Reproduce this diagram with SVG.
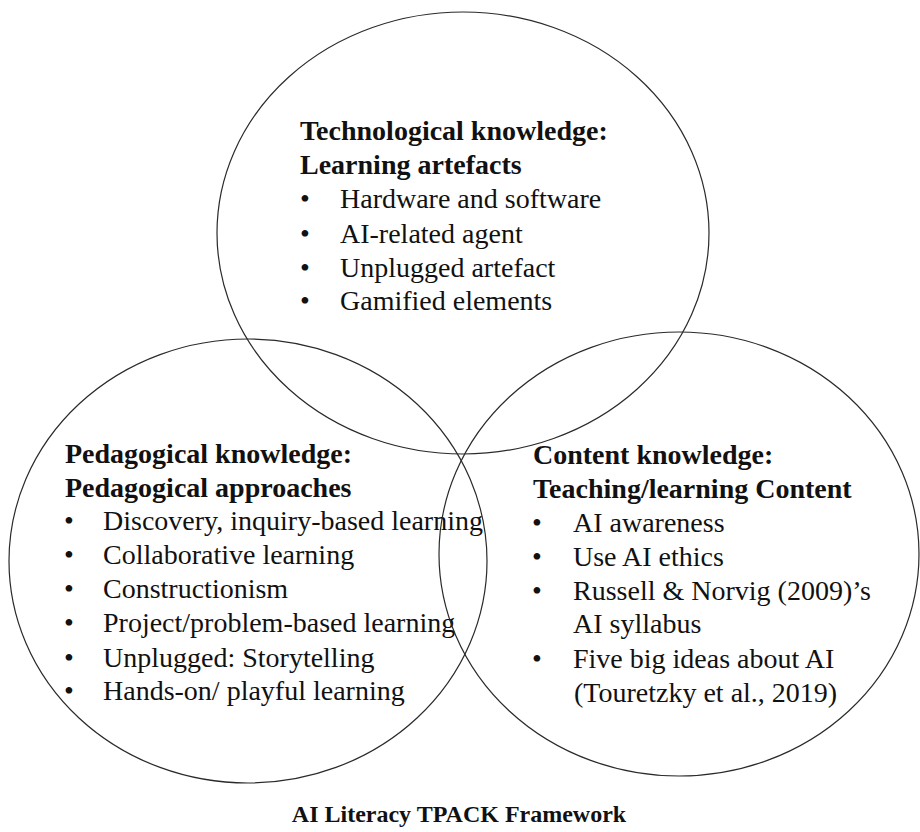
<svg xmlns="http://www.w3.org/2000/svg" width="920" height="832" viewBox="0 0 920 832">
<style>
.c{fill:none;stroke:#2a2a2a;stroke-width:1.2}
.h{font-family:"Liberation Serif","Times New Roman",serif;font-weight:bold;font-size:28px;fill:#111}
.t{font-family:"Liberation Serif","Times New Roman",serif;font-size:28px;fill:#111}
.ttl{font-family:"Liberation Serif","Times New Roman",serif;font-weight:bold;font-size:24px;fill:#111}
</style>
<rect width="920" height="832" fill="#fff"/>
<g id="tech">
<ellipse class="c" cx="463" cy="233" rx="246" ry="221"/>
<text class="h" x="300" y="140">Technological knowledge:</text>
<text class="h" x="300" y="174">Learning artefacts</text>
<text class="t" x="300" y="208">•</text><text class="t" x="340" y="208">Hardware and software</text>
<text class="t" x="300" y="243">•</text><text class="t" x="340" y="243">AI-related agent</text>
<text class="t" x="300" y="277">•</text><text class="t" x="340" y="277">Unplugged artefact</text>
<text class="t" x="300" y="310">•</text><text class="t" x="340" y="310">Gamified elements</text>
</g>
<g id="ped">
<ellipse class="c" cx="248" cy="561" rx="239" ry="222"/>
<text class="h" x="65" y="463">Pedagogical knowledge:</text>
<text class="h" x="65" y="497">Pedagogical approaches</text>
<text class="t" x="64" y="530">•</text><text class="t" x="103" y="530">Discovery, inquiry-based learning</text>
<text class="t" x="64" y="564">•</text><text class="t" x="103" y="564">Collaborative learning</text>
<text class="t" x="64" y="598">•</text><text class="t" x="103" y="598">Constructionism</text>
<text class="t" x="64" y="632">•</text><text class="t" x="103" y="632">Project/problem-based learning</text>
<text class="t" x="64" y="667">•</text><text class="t" x="103" y="667">Unplugged: Storytelling</text>
<text class="t" x="64" y="700">•</text><text class="t" x="103" y="700">Hands-on/ playful learning</text>
</g>
<g id="content">
<ellipse class="c" cx="679" cy="554" rx="240" ry="222"/>
<text class="h" x="533" y="464">Content knowledge:</text>
<text class="h" x="533" y="498">Teaching/learning Content</text>
<text class="t" x="532" y="532">•</text><text class="t" x="573" y="532">AI awareness</text>
<text class="t" x="532" y="566">•</text><text class="t" x="573" y="566">Use AI ethics</text>
<text class="t" x="532" y="600">•</text><text class="t" x="573" y="600">Russell &amp; Norvig (2009)’s</text>
<text class="t" x="573" y="633">AI syllabus</text>
<text class="t" x="532" y="668">•</text><text class="t" x="573" y="668">Five big ideas about AI</text>
<text class="t" x="574" y="702">(Touretzky et al., 2019)</text>
</g>
<g id="connectors"/>
<g id="caption">
<text class="ttl" x="459" y="822" text-anchor="middle">AI Literacy TPACK Framework</text>
</g>
</svg>
